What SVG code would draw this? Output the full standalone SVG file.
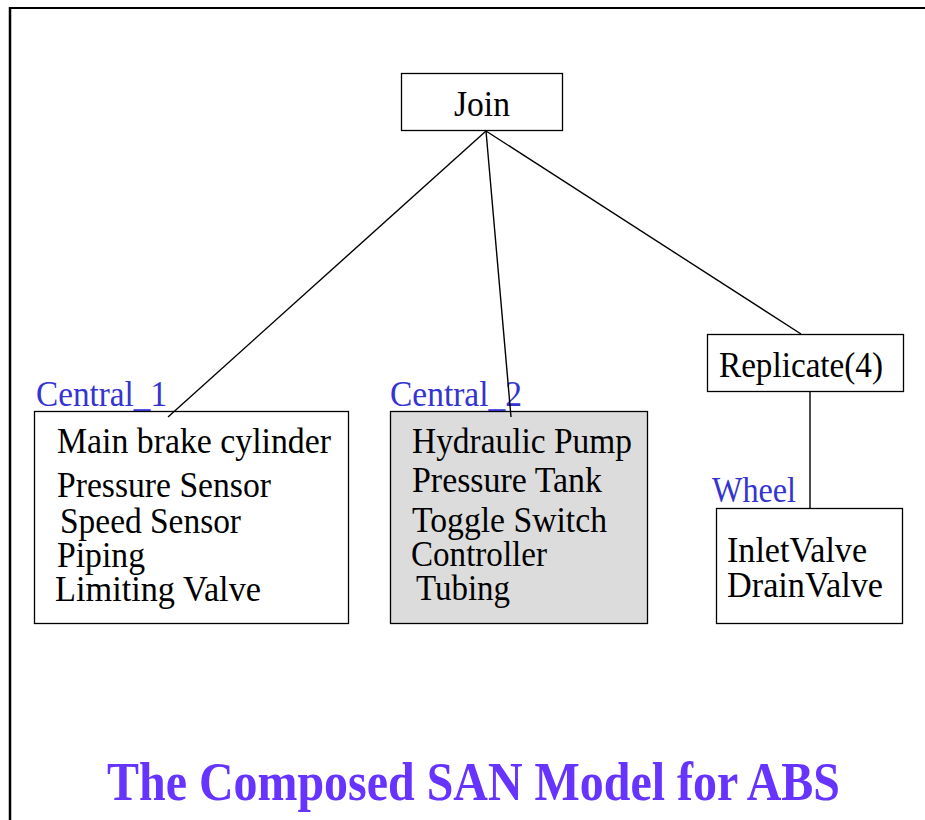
<svg xmlns="http://www.w3.org/2000/svg" width="925" height="820" viewBox="0 0 925 820">
  <style>
    .box { fill: #ffffff; stroke: #000000; stroke-width: 1.3; }
    .shaded { fill: #dcdcdc; }
    .edge { stroke: #000000; stroke-width: 1.4; fill: none; }
    .frame { stroke: #000000; fill: none; }
    .txt { font-family: "Liberation Serif", "Times New Roman", serif; font-size: 35px; fill: #000000; }
    .lbl { font-family: "Liberation Serif", "Times New Roman", serif; font-size: 35px; fill: #3434d2; }
    .title { font-family: "Liberation Serif", "Times New Roman", serif; font-size: 54px; font-weight: bold; fill: #6633ff; }
  </style>

  <rect x="0" y="0" width="925" height="820" fill="#ffffff"/>

  <!-- page frame (top and left edges) -->
  <g id="frame">
    <line class="frame" x1="9" y1="8" x2="925" y2="8" stroke-width="2"/>
    <line class="frame" x1="10" y1="7" x2="10" y2="820" stroke-width="2.5"/>
  </g>

  <g id="join">
    <rect class="box" x="401.5" y="73.5" width="161" height="57"/>
    <text class="txt" x="454" y="116" textLength="56" lengthAdjust="spacingAndGlyphs">Join</text>
  </g>

  <g id="central1">
    <rect class="box" x="34.5" y="411.5" width="314" height="212"/>
    <text class="lbl" x="36" y="406" textLength="131" lengthAdjust="spacingAndGlyphs">Central_1</text>
    <text class="txt" x="57" y="453" textLength="274" lengthAdjust="spacingAndGlyphs">Main brake cylinder</text>
    <text class="txt" x="57" y="497" textLength="214" lengthAdjust="spacingAndGlyphs">Pressure Sensor</text>
    <text class="txt" x="60" y="533" textLength="181" lengthAdjust="spacingAndGlyphs">Speed Sensor</text>
    <text class="txt" x="57" y="567" textLength="88" lengthAdjust="spacingAndGlyphs">Piping</text>
    <text class="txt" x="55" y="601" textLength="206" lengthAdjust="spacingAndGlyphs">Limiting Valve</text>
  </g>

  <g id="central2">
    <rect class="box shaded" x="390.5" y="411.5" width="257" height="212"/>
    <text class="lbl" x="390" y="406" textLength="132" lengthAdjust="spacingAndGlyphs">Central_2</text>
    <text class="txt" x="412" y="453" textLength="220" lengthAdjust="spacingAndGlyphs">Hydraulic Pump</text>
    <text class="txt" x="412" y="492" textLength="190" lengthAdjust="spacingAndGlyphs">Pressure Tank</text>
    <text class="txt" x="412" y="532" textLength="195" lengthAdjust="spacingAndGlyphs">Toggle Switch</text>
    <text class="txt" x="411" y="566" textLength="136" lengthAdjust="spacingAndGlyphs">Controller</text>
    <text class="txt" x="416" y="600" textLength="94" lengthAdjust="spacingAndGlyphs">Tubing</text>
  </g>

  <g id="replicate">
    <rect class="box" x="707.5" y="334.5" width="196" height="57"/>
    <text class="txt" x="719" y="377" textLength="164" lengthAdjust="spacingAndGlyphs">Replicate(4)</text>
  </g>

  <g id="wheel">
    <rect class="box" x="716.5" y="508.5" width="186" height="115"/>
    <text class="lbl" x="712" y="502" textLength="84" lengthAdjust="spacingAndGlyphs">Wheel</text>
    <text class="txt" x="727" y="562" textLength="140" lengthAdjust="spacingAndGlyphs">InletValve</text>
    <text class="txt" x="727" y="597" textLength="156" lengthAdjust="spacingAndGlyphs">DrainValve</text>
  </g>

  <!-- tree connectors, drawn over the boxes so the ends dip slightly inside -->
  <g id="connectors">
    <line class="edge" x1="486" y1="131" x2="168" y2="417"/>
    <line class="edge" x1="486" y1="131" x2="511" y2="417"/>
    <line class="edge" x1="486" y1="131" x2="801" y2="334"/>
    <line class="edge" x1="810" y1="392" x2="810" y2="508"/>
  </g>

  <text class="title" x="107" y="800" textLength="733" lengthAdjust="spacingAndGlyphs">The Composed SAN Model for ABS</text>
</svg>
